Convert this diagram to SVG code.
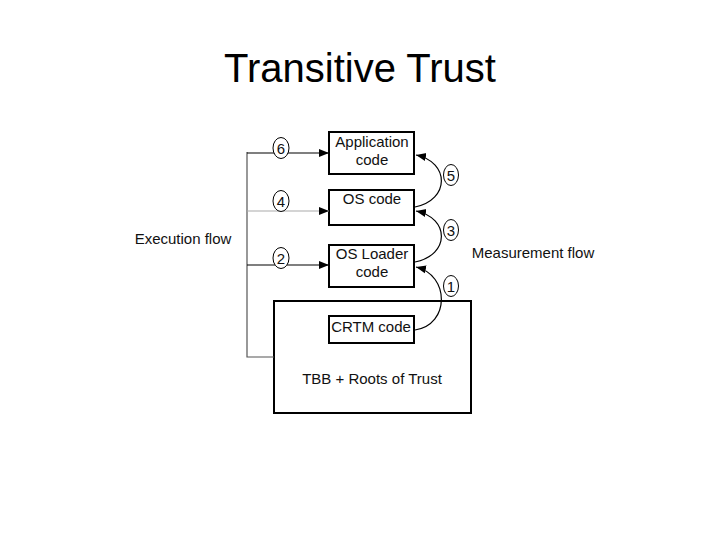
<svg xmlns="http://www.w3.org/2000/svg" width="720" height="540" viewBox="0 0 720 540">
<style>
.t{font-family:"Liberation Sans",Arial,sans-serif;font-size:15px;fill:#111;text-anchor:middle}
.box{fill:#fff;stroke:#000;stroke-width:2}
.ln{fill:none;stroke:#000;stroke-width:1.2}
.num{fill:#fff;stroke:#000;stroke-width:1}
</style>
<defs>
<marker id="ah" markerUnits="userSpaceOnUse" markerWidth="10" markerHeight="10" viewBox="0 0 10 10" refX="10" refY="5" orient="auto">
<path d="M0,1 L10,5 L0,9 z" fill="#000"/>
</marker>
</defs>
<rect width="720" height="540" fill="#fff"/>
<text x="360" y="82" style="font-family:'Liberation Sans',Arial,sans-serif;font-size:40px;fill:#000;text-anchor:middle">Transitive Trust</text>

<g id="tbb"><rect class="box" x="274" y="301" width="197" height="112"/><text class="t" x="372" y="384">TBB + Roots of Trust</text></g>
<g id="app"><rect class="box" x="329" y="132" width="85" height="42"/><text class="t" x="372" y="147">Application</text><text class="t" x="372" y="165">code</text></g>
<g id="os"><rect class="box" x="329" y="190" width="85" height="35"/><text class="t" x="372" y="204">OS code</text></g>
<g id="loader"><rect class="box" x="329" y="245" width="85" height="42"/><text class="t" x="372" y="259">OS Loader</text><text class="t" x="372" y="277">code</text></g>
<g id="crtm"><rect class="box" x="329" y="316" width="85" height="27"/><text class="t" x="371" y="332">CRTM code</text></g>

<g id="connectors">
<path d="M274,357 H247 V152" fill="none" stroke="#555" stroke-width="1.2"/>
<path class="ln" d="M247,153 H329" marker-end="url(#ah)"/>
<path d="M247,211 H329" fill="none" stroke="#aaa" stroke-width="1.2" marker-end="url(#ah)"/>
<path class="ln" d="M247,265 H329" marker-end="url(#ah)" stroke="#333"/>
<path class="ln" d="M415,207 C450,200 450,162 416,155" marker-end="url(#ah)"/>
<path class="ln" d="M415,262 C450,255 450,218 416,211" marker-end="url(#ah)"/>
<path class="ln" d="M415,330 C450,325 450,275 416,267" marker-end="url(#ah)"/>
</g>

<g id="n6"><ellipse class="num" cx="281" cy="148" rx="8" ry="10.5"/><text class="t" x="281" y="153.5">6</text></g>
<g id="n4"><ellipse class="num" cx="281" cy="201" rx="8" ry="10.5"/><text class="t" x="281" y="206.5">4</text></g>
<g id="n2"><ellipse class="num" cx="281" cy="258" rx="8" ry="10.5"/><text class="t" x="281" y="263.5">2</text></g>
<g id="n5"><ellipse class="num" cx="451" cy="175" rx="7.5" ry="10.5"/><text class="t" x="451" y="180.5">5</text></g>
<g id="n3"><ellipse class="num" cx="451" cy="230" rx="7.5" ry="10.5"/><text class="t" x="451" y="235.5">3</text></g>
<g id="n1"><ellipse class="num" cx="451" cy="286" rx="7.5" ry="10.5"/><text class="t" x="451" y="291.5">1</text></g>

<text class="t" x="183" y="244">Execution flow</text>
<text class="t" x="533" y="258">Measurement flow</text>
</svg>
